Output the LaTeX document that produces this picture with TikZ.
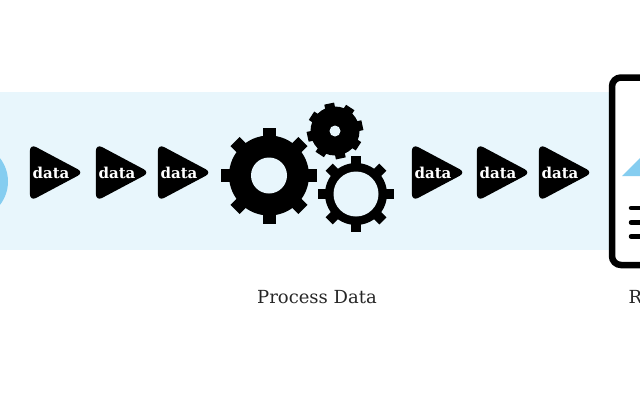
\documentclass[tikz,border=0pt]{standalone}
\usepackage{fontspec}
\setmainfont{DejaVu Serif}
\usetikzlibrary{shapes.geometric}
\definecolor{bandblue}{RGB}{232,246,252}
\definecolor{skyblue}{RGB}{133,205,240}
\tikzset{
  datatri/.style={isosceles triangle,isosceles triangle apex angle=56,fill=black,text=white,
    minimum height=54,minimum width=54,inner sep=0pt,rounded corners=7,
    execute at begin node=\hspace*{1pt},
    font=\fontsize{15}{15}\selectfont\bfseries},
  tooth/.style={fill=black,draw=none},
  caption/.style={font=\fontsize{18}{18}\selectfont,text=black!85}
}
\begin{document}
\begin{tikzpicture}[x=1pt,y=-1pt]
\useasboundingbox (0,0) rectangle (640,400);
\fill[bandblue] (0,92) rectangle (609,250);
\fill[skyblue] (-30,181.5) circle (38);
\node[datatri] (dataa) at (50.5,172.5) {data};
\node[datatri] (datab) at (116.5,172.5) {data};
\node[datatri] (datac) at (178.5,172.5) {data};
\node[datatri] (datad) at (432.5,172.5) {data};
\node[datatri] (datae) at (497.5,172.5) {data};
\node[datatri] (dataf) at (559.5,172.5) {data};
% big gear
\fill[black] (269,175.5) circle (40);
\fill[tooth] (221,169) rectangle (317,182);
\fill[tooth,rotate around={45:(269,175.5)}] (221,169) rectangle (317,182);
\fill[tooth,rotate around={90:(269,175.5)}] (221,169) rectangle (317,182);
\fill[tooth,rotate around={135:(269,175.5)}] (221,169) rectangle (317,182);
\fill[bandblue] (269,175.5) circle (18);
% small gear
\fill[black] (335,131) circle (24.5);
\fill[tooth,rotate around={12:(335,131)}] (307,126) rectangle (363,136);
\fill[tooth,rotate around={57:(335,131)}] (307,126) rectangle (363,136);
\fill[tooth,rotate around={102:(335,131)}] (307,126) rectangle (363,136);
\fill[tooth,rotate around={147:(335,131)}] (307,126) rectangle (363,136);
\fill[bandblue] (335,131) circle (5.5);
% ring gear
\fill[black] (356,194) circle (31);
\fill[tooth] (318,189) rectangle (394,199);
\fill[tooth,rotate around={45:(356,194)}] (318,189) rectangle (394,199);
\fill[tooth,rotate around={90:(356,194)}] (318,189) rectangle (394,199);
\fill[tooth,rotate around={135:(356,194)}] (318,189) rectangle (394,199);
\fill[bandblue] (356,194) circle (22.5);
% sheet on the right
\draw[line width=6.5,fill=white,rounded corners=9] (612,77.5) rectangle (670,265);
\fill[skyblue] (622,176) -- (640,158) -- (640,176) -- cycle;
\draw[line width=4.5,line cap=round] (631,208) -- (645,208);
\draw[line width=4.5,line cap=round] (631,222.5) -- (645,222.5);
\draw[line width=4.5,line cap=round] (631,236.5) -- (645,236.5);
\node[caption] (process) at (317,297) {Process Data};
\node[caption,anchor=west] (sheetlabel) at (625,297) {R};
\end{tikzpicture}
\end{document}
